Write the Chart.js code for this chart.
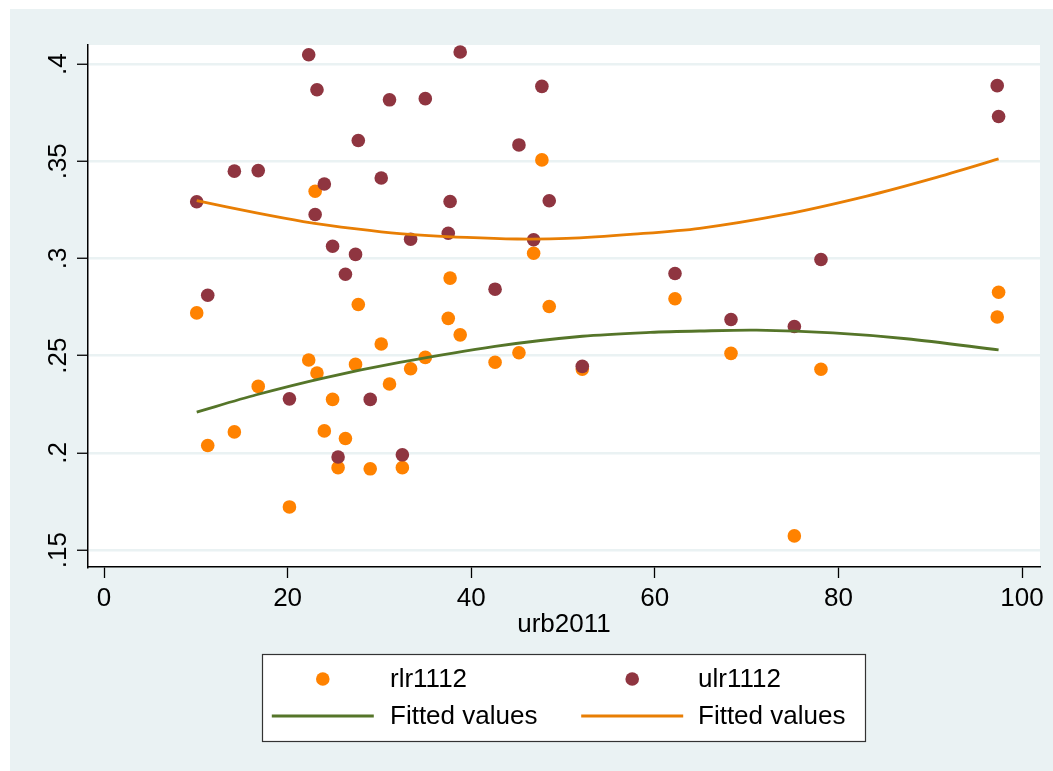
<!DOCTYPE html>
<html>
<head>
<meta charset="utf-8">
<script src="https://cdn.jsdelivr.net/npm/chart.js@4.4.1/dist/chart.umd.min.js"></script>
<style>
  html, body { margin: 0; padding: 0; background: #fff; }
  #wrap { width: 1053px; height: 771px; }
</style>
</head>
<body>
<div id="wrap"><canvas id="chart" width="1053" height="771"></canvas></div>
<script>
// urbanisation (x) shared by both scatters
const urb2011 = [10.1, 11.3, 14.2, 16.8, 20.2, 22.3, 23.0, 23.2, 24.0, 24.9, 25.5, 26.3,
  27.4, 27.7, 29.0, 30.2, 31.1, 32.5, 33.4, 35.0, 37.5, 37.7, 38.8, 42.6, 45.2, 46.8,
  47.7, 48.5, 52.1, 62.2, 68.3, 75.2, 78.1, 97.3, 97.45];
const rlr1112 = [0.2720, 0.2038, 0.2108, 0.2342, 0.1722, 0.2478, 0.3346, 0.2411, 0.2113,
  0.2275, 0.1924, 0.2074, 0.2455, 0.2763, 0.1918, 0.2560, 0.2354, 0.1924, 0.2433, 0.2491,
  0.2692, 0.2899, 0.2607, 0.2466, 0.2515, 0.3027, 0.3507, 0.2753, 0.2431, 0.2793, 0.2512,
  0.1573, 0.2430, 0.2699, 0.2826];
const ulr1112 = [0.3292, 0.2811, 0.3449, 0.3452, 0.2278, 0.4048, 0.3226, 0.3868, 0.3383,
  0.3063, 0.1979, 0.2919, 0.3021, 0.3607, 0.2275, 0.3414, 0.3816, 0.1990, 0.3099, 0.3822,
  0.3130, 0.3293, 0.4062, 0.2842, 0.3584, 0.3096, 0.3885, 0.3297, 0.2445, 0.2923, 0.2686,
  0.2650, 0.2995, 0.3889, 0.3730];

// fitted curves
const fitRlrX = [10.1, 16.6, 23.9, 32.2, 42.6, 52.1, 59.5, 64.9, 71.1, 79.4, 87.4, 97.45];
const fitRlrY = [0.2210, 0.2299, 0.2385, 0.2465, 0.2548, 0.2600, 0.2620, 0.2627, 0.2631, 0.2617, 0.2587, 0.2530];
const fitUlrX = [10.1, 16.6, 21.7, 27.5, 32.2, 39.5, 45.0, 50.4, 57.7, 64.9, 74.0, 83.1, 90.3, 97.45];
const fitUlrY = [0.3297, 0.3234, 0.3190, 0.3152, 0.3128, 0.3108, 0.3100, 0.3103, 0.3125, 0.3155, 0.3225, 0.3321, 0.3412, 0.3512];

const xTicks = [0, 20, 40, 60, 80, 100];
const yTicks = [0.15, 0.2, 0.25, 0.3, 0.35, 0.4];
const yTickLabels = [".15", ".2", ".25", ".3", ".35", ".4"];

const FONT = '"Liberation Sans", Arial, sans-serif';
const BG = "#eaf2f3";

function pairs(xs, ys) {
  return xs.map((x, i) => ({ x: x, y: ys[i] }));
}

const stataPlugin = {
  id: "stata",
  beforeDraw(chart) {
    const ctx = chart.ctx;
    const a = chart.chartArea;
    ctx.save();
    ctx.fillStyle = "#fff";
    ctx.fillRect(0, 0, chart.width, chart.height);
    ctx.fillStyle = BG;
    ctx.fillRect(10, 9, chart.width - 10, chart.height - 9);
    ctx.fillStyle = "#fff";
    ctx.fillRect(a.left, a.top, a.right - a.left, a.bottom - a.top);
    ctx.restore();
  },
  afterDraw(chart) {
    const ctx = chart.ctx;
    const y = chart.scales.y;
    ctx.save();
    ctx.fillStyle = "#000";
    ctx.font = "26px " + FONT;
    ctx.textAlign = "center";
    ctx.textBaseline = "alphabetic";
    yTicks.forEach((v, i) => {
      const py = y.getPixelForValue(v);
      ctx.save();
      ctx.translate(66, py);
      ctx.rotate(-Math.PI / 2);
      ctx.fillText(yTickLabels[i], 0, 0);
      ctx.restore();
    });

    // legend box
    const box = { x: 262, y: 654, w: 603, h: 87 };
    ctx.fillStyle = "#fff";
    ctx.fillRect(box.x, box.y, box.w, box.h);
    ctx.strokeStyle = "#333";
    ctx.lineWidth = 1.2;
    ctx.strokeRect(box.x + 0.5, box.y + 0.5, box.w, box.h);

    const keyX = [322.8, 632.2];
    const textX = [390, 698];
    const rowY = [679, 716];
    const ds = chart.data.datasets;
    [[0, 0, 0], [1, 1, 0], [2, 0, 1], [3, 1, 1]].forEach(([d, c, r]) => {
      const set = ds[d];
      if (set.showLine) {
        ctx.strokeStyle = set.borderColor;
        ctx.lineWidth = set.borderWidth;
        ctx.beginPath();
        ctx.moveTo(keyX[c] - 51, rowY[r]);
        ctx.lineTo(keyX[c] + 51, rowY[r]);
        ctx.stroke();
      } else {
        ctx.fillStyle = set.backgroundColor;
        ctx.beginPath();
        ctx.arc(keyX[c], rowY[r], set.pointRadius, 0, Math.PI * 2);
        ctx.fill();
      }
      ctx.fillStyle = "#000";
      ctx.textAlign = "left";
      ctx.textBaseline = "middle";
      ctx.fillText(set.label, textX[c], rowY[r] + 1);
    });
    ctx.restore();
  }
};

new Chart(document.getElementById("chart"), {
  type: "scatter",
  data: {
    datasets: [
      {
        label: "rlr1112",
        data: pairs(urb2011, rlr1112),
        backgroundColor: "#ff8200",
        borderWidth: 0,
        pointRadius: 6.8,
        order: 4
      },
      {
        label: "ulr1112",
        data: pairs(urb2011, ulr1112),
        backgroundColor: "#8f3540",
        borderWidth: 0,
        pointRadius: 6.8,
        order: 3
      },
      {
        label: "Fitted values",
        data: pairs(fitRlrX, fitRlrY),
        showLine: true,
        borderColor: "#557529",
        borderWidth: 2.8,
        pointRadius: 0,
        tension: 0.3,
        order: 2
      },
      {
        label: "Fitted values",
        data: pairs(fitUlrX, fitUlrY),
        showLine: true,
        borderColor: "#e87e04",
        borderWidth: 2.8,
        pointRadius: 0,
        tension: 0.3,
        order: 1
      }
    ]
  },
  options: {
    responsive: false,
    animation: false,
    layout: { padding: { left: 0, top: 45, right: 13, bottom: 0 } },
    plugins: { legend: { display: false }, tooltip: { enabled: false } },
    scales: {
      x: {
        type: "linear",
        min: -1.743,
        max: 101.96,
        afterBuildTicks: (scale) => { scale.ticks = xTicks.map((v) => ({ value: v })); },
        afterFit: (scale) => { scale.height = 204; },
        ticks: { color: "#000", font: { family: FONT, size: 26 }, padding: 5, maxRotation: 0 },
        grid: { drawOnChartArea: false, tickLength: 11, tickColor: "#000", tickWidth: 1.3 },
        border: { display: true, color: "#000", width: 1.5 },
        title: {
          display: true,
          text: "urb2011",
          color: "#000",
          font: { family: FONT, size: 26 },
          padding: { top: 0, bottom: 131 }
        }
      },
      y: {
        type: "linear",
        min: 0.1413,
        max: 0.4098,
        afterBuildTicks: (scale) => { scale.ticks = yTicks.map((v) => ({ value: v })); },
        afterFit: (scale) => { scale.width = 88; },
        ticks: { display: false },
        grid: { color: BG, lineWidth: 2.5, tickLength: 11, tickColor: "#000", tickWidth: 1.3 },
        border: { display: true, color: "#000", width: 1.5 }
      }
    }
  },
  plugins: [stataPlugin]
});
</script>
</body>
</html>
